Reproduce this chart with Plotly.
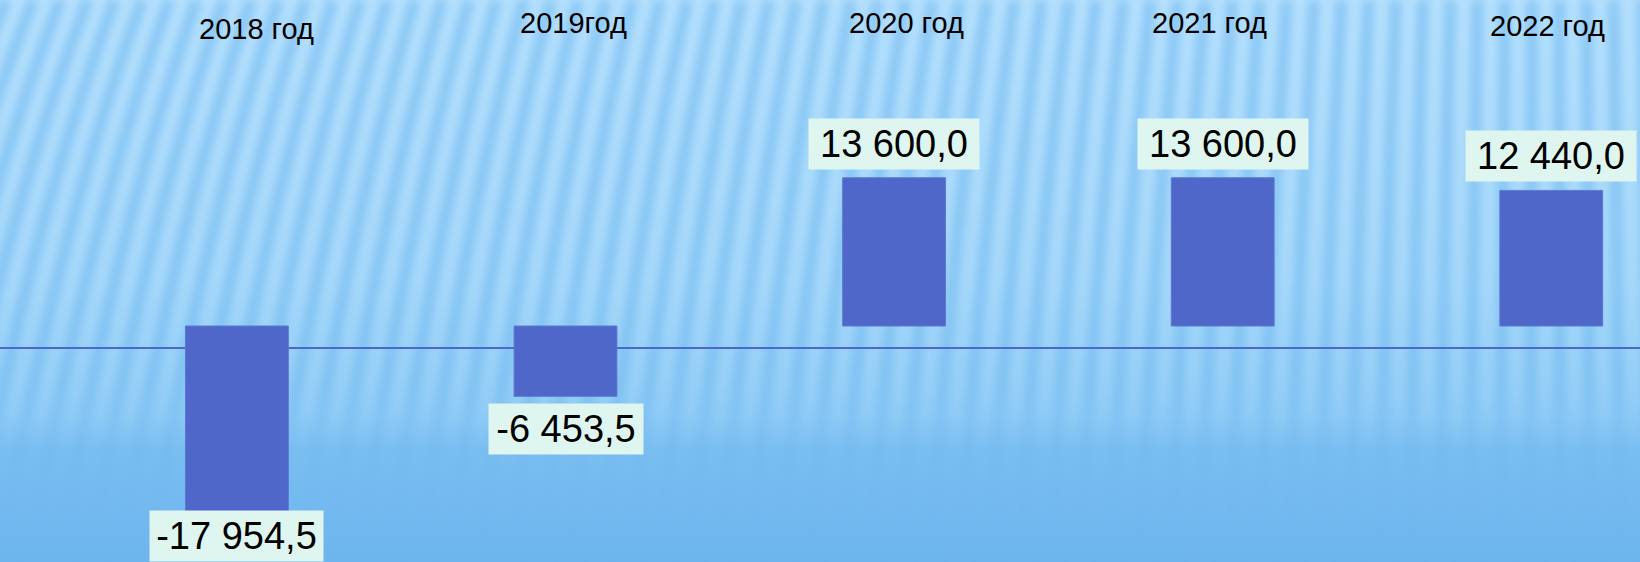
import base64
import plotly.graph_objects as go

# ---- data ----
years = ["2018 год", "2019год", "2020 год", "2021 год", "2022 год"]
values = [-17954.5, -6453.5, 13600.0, 13600.0, 12440.0]

# ---- style ----
W, H = 1640, 562
BAR_COLOR = "#4F67C8"
BOX_COLOR = "#DFF5EF"
FONT = "Liberation Sans, Arial, sans-serif"
PX_PER_UNIT = 0.0109
ZERO_PX = 326
AXIS_LINE_PX = 348
year_xshift = [20, 8, 12, -13, -4]
year_ypx = [29, 23, 23, 23, 26]
box_width = [165, 146, 162, 162, 162]


def fmt(v):
    s = f"{abs(v):,.1f}".replace(",", " ").replace(".", ",")
    return ("-" if v < 0 else "") + s


# ---- background (decoration) as SVG ----
lines = []
for i in range(-6, 62):
    xb = i * 30
    slant = 150 * max(0.0, 1 - xb / 1640) - 8
    lines.append(
        f'<path d="M{xb} {H} Q{xb + slant * 0.35:.1f} {H * 0.45:.1f} {xb + slant:.1f} 0"/>'
    )
svg = f'''<svg xmlns="http://www.w3.org/2000/svg" width="{W}" height="{H}" viewBox="0 0 {W} {H}">
<defs>
<linearGradient id="bg" x1="0" y1="0" x2="0" y2="1">
<stop offset="0" stop-color="#B5E0FD"/>
<stop offset="0.5" stop-color="#A6D8FA"/>
<stop offset="0.69" stop-color="#96CFF7"/>
<stop offset="0.74" stop-color="#8ECBF6"/>
<stop offset="0.8" stop-color="#7ABEF1"/>
<stop offset="1" stop-color="#6DB5EE"/>
</linearGradient>
<linearGradient id="sg" gradientUnits="userSpaceOnUse" x1="0" y1="0" x2="0" y2="{H}">
<stop offset="0" stop-color="#6FB9F1" stop-opacity="0.6"/>
<stop offset="0.68" stop-color="#6CB6EF" stop-opacity="0.55"/>
<stop offset="0.8" stop-color="#6AB3EC" stop-opacity="0.2"/>
<stop offset="1" stop-color="#6AB3EC" stop-opacity="0.12"/>
</linearGradient>
<filter id="blur" x="-10%" y="-10%" width="120%" height="120%"><feGaussianBlur stdDeviation="4"/></filter>
</defs>
<rect x="0" y="0" width="{W}" height="{H}" fill="url(#bg)"/>
<g fill="none" stroke="url(#sg)" stroke-width="12" filter="url(#blur)">
{''.join(lines)}
</g>
</svg>'''
bg_src = "data:image/svg+xml;base64," + base64.b64encode(svg.encode("utf-8")).decode("ascii")

# ---- figure ----
y_top = ZERO_PX / PX_PER_UNIT
y_bot = -(H - ZERO_PX) / PX_PER_UNIT

fig = go.Figure()
fig.add_trace(
    go.Bar(
        x=years,
        y=values,
        width=0.313,
        marker=dict(color=BAR_COLOR, line=dict(color="#5D78D2", width=1)),
        hoverinfo="skip",
    )
)

annotations = []
label_h_units = 58 / PX_PER_UNIT
for i, (yr, v) in enumerate(zip(years, values)):
    annotations.append(dict(
        x=yr, xref="x", y=1 - year_ypx[i] / H, yref="paper",
        text=yr, showarrow=False, xshift=year_xshift[i],
        yanchor="middle", xanchor="center",
        font=dict(family=FONT, size=29, color="#000000"),
    ))
    common = dict(
        x=yr, xref="x", text=fmt(v), showarrow=False,
        font=dict(family=FONT, size=38, color="#000000"),
        bgcolor=BOX_COLOR, borderpad=4, width=box_width[i], align="center",
        xanchor="center",
    )
    if v >= 0:
        annotations.append(dict(common, y=v, yref="y", yanchor="bottom", yshift=8))
    elif v - label_h_units < y_bot:
        annotations.append(dict(common, y=0, yref="paper", yanchor="bottom"))
    else:
        annotations.append(dict(common, y=v, yref="y", yanchor="top", yshift=-7))

fig.update_layout(
    width=W, height=H,
    margin=dict(l=0, r=0, t=0, b=0, pad=0),
    paper_bgcolor="#9FD3F8",
    plot_bgcolor="rgba(0,0,0,0)",
    showlegend=False,
    xaxis=dict(type="category", range=[-0.721, 4.27], visible=False, fixedrange=True),
    yaxis=dict(range=[y_bot, y_top], visible=False, fixedrange=True, zeroline=False),
    annotations=annotations,
    images=[dict(
        source=bg_src, xref="paper", yref="paper", x=0, y=1, sizex=1, sizey=1,
        xanchor="left", yanchor="top", sizing="stretch", layer="below",
    )],
    shapes=[dict(
        type="line", xref="paper", yref="paper", x0=0, x1=1,
        y0=1 - AXIS_LINE_PX / H, y1=1 - AXIS_LINE_PX / H,
        line=dict(color="#4E67C9", width=2), layer="below",
    )],
)

fig.write_html(
    "out.html",
    config=dict(displayModeBar=False),
    post_script="document.body.style.margin='0';document.body.style.overflow='hidden';",
)
